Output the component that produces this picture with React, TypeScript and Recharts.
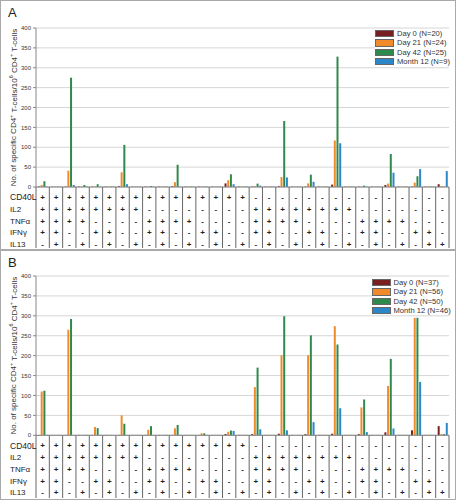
import React from 'react'
import { BarChart, Bar, XAxis, YAxis, CartesianGrid, Legend } from 'recharts'

// marker combinations, one character per category
const CD40L = '++++++++++++++++---------------'
const IL2 = '++++++++--------++++++++-------'
const TNFA = '++++----++++----++++----++++---'
const IFNG = '++--++--++--++--++--++--++--++-'
const IL13 = '-+-+-+-+-+-+-+-+-+-+-+-+-+-+-++'
const MARKERS = ['CD40L', 'IL2', 'TNFα', 'IFNγ', 'IL13']
const SIGNS = [CD40L, IL2, TNFA, IFNG, IL13]
const CATEGORIES = CD40L.split('').map((_, i) => SIGNS.map(s => s[i]).join(''))

const Y_TICKS = [0, 50, 100, 150, 200, 250, 300, 350, 400]

// panel A
const A_DAY0 = [1.5, 1, 1, 1, 1, 1, 2, 1, 1, 1, 2, 1, 1, 1, 9, 1, 1, 1, 2, 1, 1, 1, 6, 1, 1, 1, 5, 1, 1, 1, 7]
const A_DAY21 = [5, 1, 41, 1, 1, 1, 37, 1, 1, 1, 12, 1, 1, 1, 17, 1, 2, 1, 25, 1, 9, 1, 117, 1, 1, 1, 8.5, 1, 11, 1, 2]
const A_DAY42 = [14.5, 1, 275, 5, 7, 1, 106, 1, 2.5, 1, 56, 1, 1, 1, 32, 1, 8.5, 1, 166, 1, 31, 1, 328, 1, 3.5, 1, 83, 1, 27, 1, 1]
const A_MONTH12 = [1, 1, 5, 1, 1, 1, 7, 1, 1, 1, 1, 1, 1, 1, 7, 1, 3.5, 1, 24, 1, 13, 1, 110, 1, 1, 1, 36, 1, 45, 1, 40]
const A_NAMES = ['Day 0 (N=20)', 'Day 21 (N=24)', 'Day 42 (N=25)', 'Month 12 (N=9)']

// panel B
const B_DAY0 = [1, 1, 1, 1, 1, 1, 1, 1, 1, 1, 1, 1, 1, 1, 3.3, 1, 3, 1, 4, 1, 3, 1, 4, 1, 3, 1, 7.5, 1, 12.5, 1, 23]
const B_DAY21 = [110, 1, 265, 1, 21, 1, 50, 1, 14, 1, 17.5, 1, 5, 1, 9, 1, 121, 1, 201, 1, 201, 1, 274, 1, 70, 1, 124, 1, 295, 1, 3]
const B_DAY42 = [112, 1, 292, 1, 18, 1, 29, 1, 23, 1, 26, 1, 5, 1, 12, 1, 170, 1, 299, 1, 251, 1, 228, 1, 90, 1, 192, 1, 295, 1, 3]
const B_MONTH12 = [1, 1, 1, 1, 1, 1, 1, 1, 1, 1, 1, 1, 1, 1, 11, 1, 15, 1, 12.5, 1, 33, 1, 68, 1, 8, 1, 17, 1, 134, 1, 31]
const B_NAMES = ['Day 0 (N=37)', 'Day 21 (N=56)', 'Day 42 (N=50)', 'Month 12 (N=46)']

const COLORS = ['#7a1f1f', '#f08a2b', '#2e8a4c', '#2c87c9']
const FONT = '"Liberation Sans", Arial, sans-serif'

const W = 456
const H = 250
const Y_AXIS_W = 36
const RIGHT = 7
const COL_W = (W - Y_AXIS_W - RIGHT) / CATEGORIES.length
const ROW_DY = [10.3, 22, 33.7, 45.4, 57]

function ComboTick(props: any) {
  const { x, y, payload, lineLen } = props
  const i = props.index ?? payload.index
  return (
    <g fontFamily={FONT}>
      <line x1={x + COL_W / 2} x2={x + COL_W / 2} y1={y} y2={y + lineLen} stroke="#666" />
      {i === 0 && <line x1={x - COL_W / 2} x2={x - COL_W / 2} y1={y} y2={y + lineLen} stroke="#666" />}
      {SIGNS.map((s, r) => (
        <text key={r} x={x} y={y + ROW_DY[r]} dy={2.8} textAnchor="middle" fontSize={8} fill="#222" fontWeight="bold">
          {s[i]}
        </text>
      ))}
      {i === 0 &&
        MARKERS.map((m, r) => (
          <text key={m} x={10} y={y + ROW_DY[r]} dy={3} fontSize={r === 0 ? 8.5 : 8} fill="#222">
            {m}
          </text>
        ))}
    </g>
  )
}

function YTitle(props: any) {
  const vb = props.viewBox || { y: 28, height: 159 }
  const cy = vb.y + vb.height / 2
  return (
    <text
      transform={`translate(13.5,${cy}) rotate(-90)`}
      textAnchor="middle"
      dominantBaseline="central"
      fontSize={8}
      fontFamily={FONT}
      fill="#333"
    >
      No. of specific CD4<tspan dy={-3} fontSize={5.5}>+</tspan>
      <tspan dy={3}> T-cells/10</tspan>
      <tspan dy={-3} fontSize={5.5}>6</tspan>
      <tspan dy={3}> CD4</tspan>
      <tspan dy={-3} fontSize={5.5}>+</tspan>
      <tspan dy={3}> T-cells</tspan>
    </text>
  )
}

function LegendBox({ payload }: any) {
  return (
    <div style={{ background: '#fff', fontFamily: FONT }}>
      {(payload || []).map((p: any) => (
        <div key={p.value} style={{ display: 'flex', alignItems: 'center', height: 9.33 }}>
          <span
            style={{
              display: 'inline-block',
              width: 17,
              height: 5.5,
              background: p.color,
              border: '0.5px solid #666',
              marginRight: 3,
            }}
          />
          <span style={{ fontSize: 7.6, lineHeight: '9.33px', color: '#333', whiteSpace: 'nowrap' }}>{p.value}</span>
        </div>
      ))}
    </div>
  )
}

function Panel({
  label,
  top,
  series,
  names,
  plotTop,
  axisH,
  legendPos,
}: {
  label: string
  top: number
  series: number[][]
  names: string[]
  plotTop: number
  axisH: number
  legendPos: { left: number; top: number }
}) {
  const data = CATEGORIES.map((c, i) => ({
    combo: c,
    d0: series[0][i],
    d21: series[1][i],
    d42: series[2][i],
    m12: series[3][i],
  }))
  const keys = ['d0', 'd21', 'd42', 'm12']
  return (
    <div style={{ position: 'absolute', left: 0, top, width: W, height: H }}>
      <BarChart
        width={W}
        height={H}
        data={data}
        margin={{ top: plotTop, right: RIGHT, left: 0, bottom: 0 }}
        barSize={2}
        barGap={0.7}
      >
        <CartesianGrid vertical={false} stroke="#d6d6d6" />
        <XAxis
          dataKey="combo"
          height={axisH}
          interval={0}
          tickSize={0}
          tickMargin={0}
          tickLine={false}
          axisLine={{ stroke: '#888' }}
          tick={<ComboTick lineLen={axisH - 2} />}
        />
        <YAxis
          width={Y_AXIS_W}
          domain={[0, 400]}
          ticks={Y_TICKS}
          interval={0}
          tickSize={3}
          tickMargin={2}
          axisLine={{ stroke: '#888' }}
          tickLine={{ stroke: '#888' }}
          tick={{ fontSize: 6, fill: '#333', fontFamily: FONT }}
          label={{ content: (p: any) => <YTitle {...p} /> }}
        />
        <Legend
          layout="horizontal"
          verticalAlign="middle"
          align="center"
          content={<LegendBox />}
          wrapperStyle={{ left: legendPos.left, top: legendPos.top, width: 'auto', height: 'auto' }}
        />
        {keys.map((k, i) => (
          <Bar key={k} dataKey={k} name={names[i]} fill={COLORS[i]} isAnimationActive={false} />
        ))}
      </BarChart>
      <div
        style={{
          position: 'absolute',
          left: 8,
          top: 6,
          fontFamily: FONT,
          fontSize: 13,
          lineHeight: '13px',
          color: '#222',
        }}
      >
        {label}
      </div>
      <div
        style={{
          position: 'absolute',
          left: 0,
          top: 0,
          width: W - 2,
          height: H - 2,
          border: '1px solid #aaa',
          pointerEvents: 'none',
        }}
      />
    </div>
  )
}

export default function App() {
  return (
    <div style={{ position: 'absolute', left: 0, top: 0, width: W, height: 500, background: '#fff' }}>
      <Panel
        label="A"
        top={0}
        series={[A_DAY0, A_DAY21, A_DAY42, A_MONTH12]}
        names={A_NAMES}
        plotTop={28}
        axisH={63}
        legendPos={{ left: 375, top: 29 }}
      />
      <Panel
        label="B"
        top={250}
        series={[B_DAY0, B_DAY21, B_DAY42, B_MONTH12]}
        names={B_NAMES}
        plotTop={26}
        axisH={64.7}
        legendPos={{ left: 371.5, top: 28 }}
      />
    </div>
  )
}
